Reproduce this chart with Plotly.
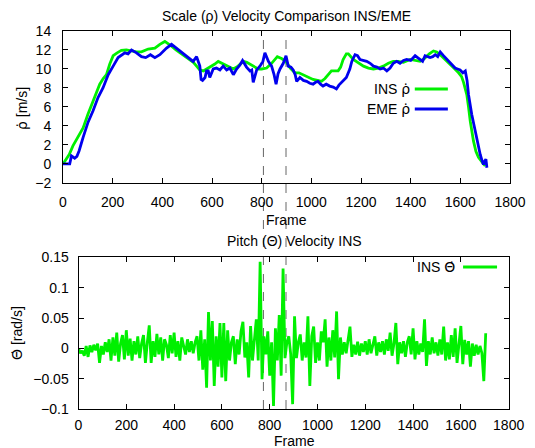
import plotly.graph_objects as go

# ---------------- data ----------------
ins_rho_frame = [0, 7, 25, 40, 60, 81, 100, 121, 135, 148, 162, 175, 188, 202, 218, 235, 255, 276, 296, 316,
                 330, 343, 370, 390, 410, 423, 437, 455, 471, 490, 511, 525, 538, 551, 565, 578, 592, 610, 625, 640,
                 659, 672, 686, 705, 726, 740, 753, 770, 786, 800, 820, 840, 863, 880, 898, 915, 934, 950, 968, 985,
                 1007, 1025, 1041, 1055, 1068, 1081, 1095, 1108, 1118, 1128, 1141, 1149, 1169, 1190, 1210, 1230, 1250,
                 1270, 1290, 1310, 1330, 1350, 1371, 1398, 1420, 1438, 1455, 1475, 1492, 1505, 1519, 1540, 1559, 1578,
                 1593, 1605, 1613, 1620, 1626, 1633, 1640, 1653, 1663, 1673, 1683, 1693, 1700]
ins_rho_value = [0.0, 0.3, 1.0, 1.9, 2.8, 3.8, 5.2, 6.6, 7.6, 8.4, 9.0, 9.4, 10.5, 11.4, 11.7, 11.96, 12.0, 11.9, 11.8, 11.8,
                 11.95, 12.1, 12.2, 12.6, 12.9, 12.7, 12.4, 12.0, 11.7, 11.3, 11.0, 10.7, 10.3, 9.9, 9.8, 10.0, 10.2, 10.5, 10.8, 10.6,
                 10.3, 10.1, 10.0, 10.3, 10.8, 10.7, 10.5, 10.2, 10.0, 10.0, 10.1, 10.6, 11.3, 11.1, 10.8, 10.1, 9.6, 9.6, 9.4, 9.2,
                 8.9, 8.8, 8.7, 9.0, 9.4, 9.8, 9.8, 9.8, 10.2, 11.0, 11.6, 11.6, 11.0, 10.6, 10.3, 10.1, 10.0,
                 10.1, 10.3, 10.6, 10.8, 10.8, 10.7, 11.0, 10.9, 10.8, 11.1, 11.6, 11.9, 11.8, 11.5, 11.0, 10.5, 10.0,
                 9.6, 9.2, 8.6, 8.0, 7.3, 6.0, 4.5, 2.4, 1.3, 0.7, 0.3, 0.0, -0.2]

eme_rho_frame = [0, 27, 34, 47, 56, 65, 81, 101, 121, 141, 161, 182, 202, 222, 249, 262, 276, 296, 316, 333,
                 352, 370, 390, 417, 437, 457, 477, 504, 524, 538, 546, 551, 556, 562, 572, 578, 585, 591, 605, 618,
                 632, 645, 659, 672, 686, 699, 712, 723, 739, 753, 760, 766, 780, 793, 805, 813, 827, 840, 850, 858,
                 866, 874, 887, 898, 907, 918, 927, 935, 941, 954, 968, 981, 994, 1007, 1017, 1027, 1037, 1047, 1060,
                 1074, 1088, 1101, 1111, 1121, 1131, 1141, 1155, 1163, 1176, 1186, 1196, 1210, 1223, 1237, 1250, 1264,
                 1277, 1290, 1304, 1317, 1330, 1344, 1357, 1371, 1384, 1400, 1418, 1428, 1438, 1448, 1458, 1468, 1478,
                 1489, 1499, 1509, 1519, 1532, 1546, 1562, 1579, 1589, 1599, 1610, 1620, 1627, 1633, 1646, 1657, 1667,
                 1680, 1688, 1693, 1698, 1703, 1707]
eme_rho_value = [0.0, 0.0, 0.84, 0.6, 0.8, 1.4, 2.8, 4.4, 5.6, 7.0, 8.0, 9.4, 10.3, 11.2, 11.7, 11.6, 12.0, 11.7, 11.3, 11.2,
                 11.5, 11.2, 11.5, 12.2, 12.6, 12.2, 11.7, 11.2, 10.8, 11.3, 10.6, 10.3, 8.9, 8.8, 9.1, 9.8, 9.8, 9.1, 10.0, 10.1,
                 9.9, 10.3, 9.9, 10.1, 9.4, 10.0, 10.4, 10.9, 10.2, 9.8, 9.9, 8.6, 9.9, 10.3, 10.8, 11.7, 10.8, 10.3, 9.4, 8.4,
                 9.5, 10.0, 10.6, 11.4, 10.3, 10.2, 9.9, 9.4, 8.7, 9.1, 8.8, 8.7, 8.5, 8.4, 8.6, 8.7, 8.4, 8.2, 8.4,
                 8.2, 8.1, 7.9, 8.3, 8.6, 8.8, 9.1, 10.0, 10.8, 11.5, 11.4, 11.0, 10.9, 10.8, 10.6, 10.3, 10.2,
                 10.0, 10.1, 9.8, 10.1, 10.6, 10.8, 10.6, 10.9, 11.0, 10.9, 11.4, 11.2, 11.0, 10.8, 11.4, 11.3, 11.2,
                 11.3, 11.5, 11.3, 11.8, 11.4, 11.0, 10.6, 10.1, 10.0, 9.9, 9.6, 9.8, 8.8, 7.3, 5.2, 3.8, 2.4,
                 1.0, 0.3, -0.05, 0.3, 0.5, -0.4]

# INS pitch velocity, one reading every 8 frames starting at frame 0
pitch_step = 8
ins_pitch_value = [
    0.0, -0.008, -0.004, -0.012, 0.004, -0.014, 0.005, -0.006, 0.006, -0.003,
    0.008, -0.024, 0.004, -0.01, 0.01, -0.006, 0.015, -0.02, 0.018, -0.012,
    0.026, -0.022, 0.008, 0.022, -0.018, 0.03, -0.012, 0.016, -0.02, 0.012,
    -0.01, 0.02, -0.016, 0.008, 0.022, -0.024, 0.01, 0.038, -0.024, 0.012,
    -0.014, 0.024, -0.01, 0.018, -0.02, 0.015, 0.006, -0.016, 0.022, -0.008,
    0.026, -0.014, 0.012, -0.02, 0.018, 0.004, -0.01, 0.015, -0.006, 0.012,
    -0.008, 0.01, 0.02, -0.02, 0.03, -0.035, 0.015, -0.065, 0.06, -0.02,
    0.045, -0.062, 0.02, -0.03, 0.042, -0.048, 0.042, -0.054, 0.03, -0.02,
    0.01, 0.02, -0.026, 0.015, -0.01, 0.028, 0.044, -0.015, 0.01, -0.048,
    0.037, -0.02, 0.01, 0.048, -0.02, 0.143, -0.051, 0.02, -0.01, 0.028,
    -0.045, 0.01, -0.095, 0.033, -0.02, 0.055, -0.045, 0.132, -0.016, 0.01,
    0.02, -0.01, -0.092, 0.053, -0.016, 0.01, 0.023, -0.02, 0.01, -0.015,
    0.053, -0.062, 0.02, 0.036, -0.024, 0.01, -0.02, 0.028, 0.01, 0.048,
    -0.03, 0.018, -0.02, 0.03, -0.015, 0.061, -0.051, 0.018, -0.01, 0.01,
    -0.008, 0.012, 0.036, -0.014, 0.006, -0.01, 0.011, -0.012, 0.008, -0.006,
    0.012, -0.01, 0.015, -0.008, 0.004, 0.02, -0.012, 0.01, -0.006, 0.012,
    -0.01, 0.015, -0.004, 0.026, -0.012, 0.008, 0.042, -0.026, 0.01, -0.008,
    0.012, -0.014, 0.01, 0.02, -0.01, 0.033, -0.018, 0.012, -0.01, 0.008,
    -0.006, 0.048, -0.029, 0.012, -0.01, 0.018, -0.008, 0.01, -0.012, 0.015,
    -0.01, 0.036, -0.02, 0.01, -0.018, 0.022, -0.014, 0.033, -0.024, 0.01,
    0.037, -0.026, 0.014, -0.01, 0.012, -0.03, 0.008, -0.012, 0.006, -0.01,
    0.004, -0.008, -0.054, 0.025,
]
ins_pitch_frame = [i * pitch_step for i in range(len(ins_pitch_value))]

event_frames = [807, 898]  # dashed markers (top-axis frame units)

GREEN = "#00f000"
BLUE = "#0000ee"
FONT = "Liberation Sans, Arial, sans-serif"
DOT = '<span style="font-family:DejaVu Sans">{}</span>'
RHO_DOT = DOT.format("ρ\u0307")
THETA_DOT = DOT.format("Θ\u0307")

# ---------------- figure ----------------
fig = go.Figure()
fig.add_trace(go.Scatter(x=ins_rho_frame, y=ins_rho_value, mode="lines",
                         line=dict(color=GREEN, width=2.8), xaxis="x", yaxis="y", showlegend=False))
fig.add_trace(go.Scatter(x=eme_rho_frame, y=eme_rho_value, mode="lines",
                         line=dict(color=BLUE, width=2.8), xaxis="x", yaxis="y", showlegend=False))
fig.add_trace(go.Scatter(x=ins_pitch_frame, y=ins_pitch_value, mode="lines",
                         line=dict(color=GREEN, width=2.8), xaxis="x2", yaxis="y2", showlegend=False))

axis_common = dict(showline=True, linecolor="black", linewidth=1, mirror="ticks",
                   ticks="inside", ticklen=5, tickcolor="black", showgrid=False, zeroline=False,
                   automargin=False, tickfont=dict(family=FONT, size=14, color="black"))

fig.update_layout(
    width=527, height=440,
    margin=dict(l=55, r=25, t=23, b=39, autoexpand=False),
    paper_bgcolor="white", plot_bgcolor="white",
    font=dict(family=FONT, size=14, color="black"),
    xaxis=dict(domain=[0, 1], range=[0, 1800], dtick=200, anchor="y", ticklabelstandoff=6, **axis_common),
    yaxis=dict(domain=[0.598, 1], range=[-2, 14], dtick=2, anchor="x", ticklabelstandoff=8, **axis_common),
    xaxis2=dict(domain=[0.0347, 0.997], range=[0, 1800], dtick=200, anchor="y2", ticklabelstandoff=3, **axis_common),
    yaxis2=dict(domain=[0, 0.4008], range=[-0.1, 0.15], dtick=0.05, anchor="x2", ticklabelstandoff=6, **axis_common),
)

# dashed event markers spanning both panels
for f in event_frames:
    fig.add_shape(type="line", xref="x", yref="paper", x0=f, x1=f, y0=0, y1=1,
                  line=dict(color="#666666", width=1, dash="dash"), layer="below")

# titles and axis labels
ann = [
    dict(text="Scale (ρ) Velocity Comparison INS/EME", x=0.501, y=1.040),
    dict(text="Pitch (Θ) Velocity INS", x=0.517, y=0.444),
    dict(text="Frame", x=0.50, y=0.50),
    dict(text="Frame", x=0.517, y=-0.085),
    dict(text=RHO_DOT + " [m/s]", x=-0.092, y=0.796, textangle=-90),
    dict(text=THETA_DOT + " [rad/s]", x=-0.103, y=0.201, textangle=-90),
]
for a in ann:
    fig.add_annotation(xref="paper", yref="paper", showarrow=False, xanchor="center", yanchor="middle",
                       font=dict(family=FONT, size=14, color="black"), **a)

# gnuplot-style keys (text left of sample line)
keys = [
    ("INS " + RHO_DOT, GREEN, "x domain", "y domain", 0.780, 0.618, 0.787, 0.861),
    ("EME " + RHO_DOT, BLUE, "x domain", "y domain", 0.780, 0.487, 0.787, 0.861),
    ("INS " + THETA_DOT, GREEN, "x2 domain", "y2 domain", 0.880, 0.937, 0.894, 0.973),
]
for label, col, xr, yr, xt, yt, l0, l1 in keys:
    fig.add_annotation(xref=xr, yref=yr, x=xt, y=yt, text=label, showarrow=False,
                       xanchor="right", yanchor="middle", font=dict(family=FONT, size=14, color="black"))
    fig.add_shape(type="line", xref=xr, yref=yr, x0=l0, x1=l1, y0=yt, y1=yt,
                  line=dict(color=col, width=3))

fig.write_html("out.html")
